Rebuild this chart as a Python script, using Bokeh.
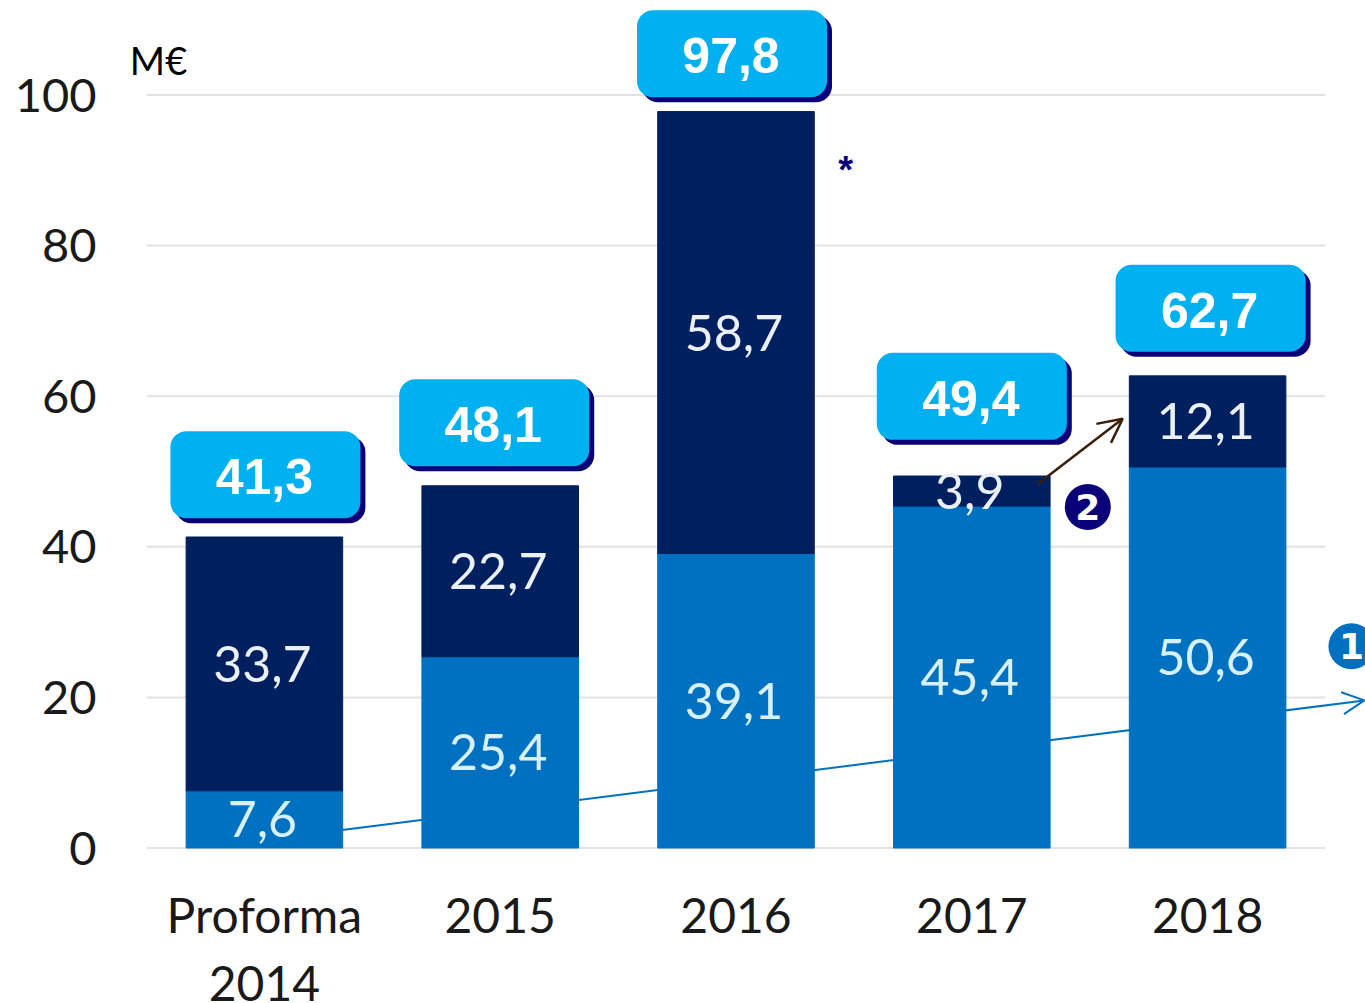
from bokeh.embed import file_html
from bokeh.resources import INLINE
from bokeh.plotting import figure
from bokeh.models import (ColumnDataSource, Range1d, BoxAnnotation, Label, Arrow,
                          OpenHead, FixedTicker)
from bokeh.core.properties import value

categories = ["Proforma\n2014", "2015", "2016", "2017", "2018"]
lower = [7.6, 25.4, 39.1, 45.4, 50.6]
upper = [33.7, 22.7, 58.7, 3.9, 12.1]
totals = [41.3, 48.1, 97.8, 49.4, 62.7]
y_ticks = [0, 20, 40, 60, 80, 100]

def comma(v):
    return f"{v:.1f}".replace(".", ",")

# scale helpers: 1 category = 235.8 px, 1 unit = 7.53 px
PX_X = 235.8
PX_Y = 7.53
dx = lambda px: px / PX_X
dy = lambda px: px / PX_Y

DARK = "#001F5F"
BLUE = "#0070C0"
CYAN = "#00B0F0"
NAVY = "#0A0078"
LATO = "Lato"
SANS = "Liberation Sans"

W, H = 1365, 1003
x_pos = [i + 0.5 for i in range(len(categories))]

p = figure(width=W, height=H, output_backend="svg", toolbar_location=None,
           x_range=Range1d(-dx(146), dx(W - 146)),
           y_range=Range1d(dy(847.5 - H), dy(847.5)),
           min_border=0)
p.outline_line_color = None
p.background_fill_color = "white"
p.grid.visible = False

p.yaxis.fixed_location = 0
p.yaxis.ticker = FixedTicker(ticks=y_ticks)
p.yaxis.axis_line_color = None
p.yaxis.major_tick_line_color = None
p.yaxis.minor_tick_line_color = None
p.yaxis.major_label_text_font = LATO
p.yaxis.major_label_text_font_size = "47px"
p.yaxis.major_label_text_color = "#1A1A1A"
p.yaxis.major_label_standoff = 44

p.xaxis.fixed_location = 0
p.xaxis.ticker = FixedTicker(ticks=x_pos)
p.xaxis.major_label_overrides = dict(zip(x_pos, categories))
p.xaxis.axis_line_color = None
p.xaxis.major_tick_line_color = None
p.xaxis.minor_tick_line_color = None
p.xaxis.major_label_text_font = LATO
p.xaxis.major_label_text_font_size = "48px"
p.xaxis.major_label_text_color = "#1A1A1A"
p.xaxis.major_label_text_line_height = 1.2
p.xaxis.major_label_standoff = 32

# gridlines limited to the category span
p.segment(x0=[0] * len(y_ticks), x1=[5] * len(y_ticks), y0=y_ticks, y1=y_ticks,
          line_color="#E2E2E2", line_width=2)

# trend arrow (behind the bars)
p.add_layout(Arrow(level="underlay", x_start=0.83, y_start=2.4, x_end=5.165, y_end=19.6,
                   line_color=BLUE, line_width=2,
                   end=OpenHead(size=22, line_color=BLUE, line_width=2)))

src = ColumnDataSource(dict(
    x=x_pos, lower=lower, upper=upper, total=totals,
    lower_mid=[v / 2 for v in lower],
    upper_mid=[a + b / 2 for a, b in zip(lower, upper)],
    lower_txt=[comma(v) for v in lower], upper_txt=[comma(v) for v in upper],
))
p.vbar(x="x", bottom=0, top="lower", width=0.664, color=BLUE, source=src)
p.vbar(x="x", bottom="lower", top="total", width=0.664, color=DARK, source=src)

for col, txt, colr in (("lower_mid", "lower_txt", "#D6F1FB"), ("upper_mid", "upper_txt", "#EAF0F6")):
    p.text(x="x", y=col, text=txt, source=src, x_offset=-2, text_align="center",
           text_baseline="middle", text_color=colr, text_font=value(LATO),
           text_font_size="50px")

# callouts
box_gap = [2.5, 2.6, 1.9, 4.8, 3.2]       # above bar, in value units
box_shift = [1, -6, -4, 0, 3]             # relative to bar centre, px
BOX_W, BOX_H = 190, 87
for i, t in enumerate(totals):
    cx = i + 0.5 + dx(box_shift[i])
    bottom = t + box_gap[i]
    top = bottom + dy(BOX_H)
    p.add_layout(BoxAnnotation(left=cx - dx(BOX_W / 2) + dx(5), right=cx + dx(BOX_W / 2) + dx(5),
                               bottom=bottom - dy(5), top=top - dy(5),
                               fill_color=NAVY, fill_alpha=1, line_color=None,
                               border_radius=16, level="overlay"))
    p.add_layout(BoxAnnotation(left=cx - dx(BOX_W / 2), right=cx + dx(BOX_W / 2),
                               bottom=bottom, top=top,
                               fill_color=CYAN, fill_alpha=1, line_color=None,
                               border_radius=16, level="overlay"))
    p.add_layout(Label(x=cx - dx(1), y=(bottom + top) / 2 - dy(2), text=comma(t), text_align="center",
                       text_baseline="middle", text_color="white", text_font=SANS,
                       text_font_style="bold", text_font_size="50px", level="overlay"))

# brown arrow between 2017 and 2018
p.add_layout(Arrow(x_start=3.778, y_start=48.3, x_end=4.14, y_end=57.0,
                   line_color="#3B1E0A", line_width=2.5,
                   end=OpenHead(size=24, line_color="#3B1E0A", line_width=2.5)))

# numbered badges
def badge(xc, yc, txt, colr):
    r = 23
    p.add_layout(BoxAnnotation(left=xc - dx(r), right=xc + dx(r), bottom=yc - dy(r), top=yc + dy(r),
                               fill_color=colr, fill_alpha=1, line_color=None,
                               border_radius=r, level="overlay"))
    p.add_layout(Label(x=xc, y=yc, text=txt, text_align="center", text_baseline="middle",
                       text_color="white", text_font="DejaVu Sans", text_font_style="bold",
                       text_font_size="36px", level="overlay"))

badge(3.992, 45.3, "2", NAVY)
badge(5.11, 26.8, "1", BLUE)

p.add_layout(Label(x=0.051, y=104.6, text="M€", text_align="center", text_baseline="middle",
                   text_color="black", text_font=LATO, text_font_size="38px"))
p.add_layout(Label(x=2.965, y=90.0, text="*", text_align="center", text_baseline="middle",
                   text_color=NAVY, text_font=SANS, text_font_style="bold", text_font_size="38px"))

open("out.html", "w").write(file_html(p, INLINE))
